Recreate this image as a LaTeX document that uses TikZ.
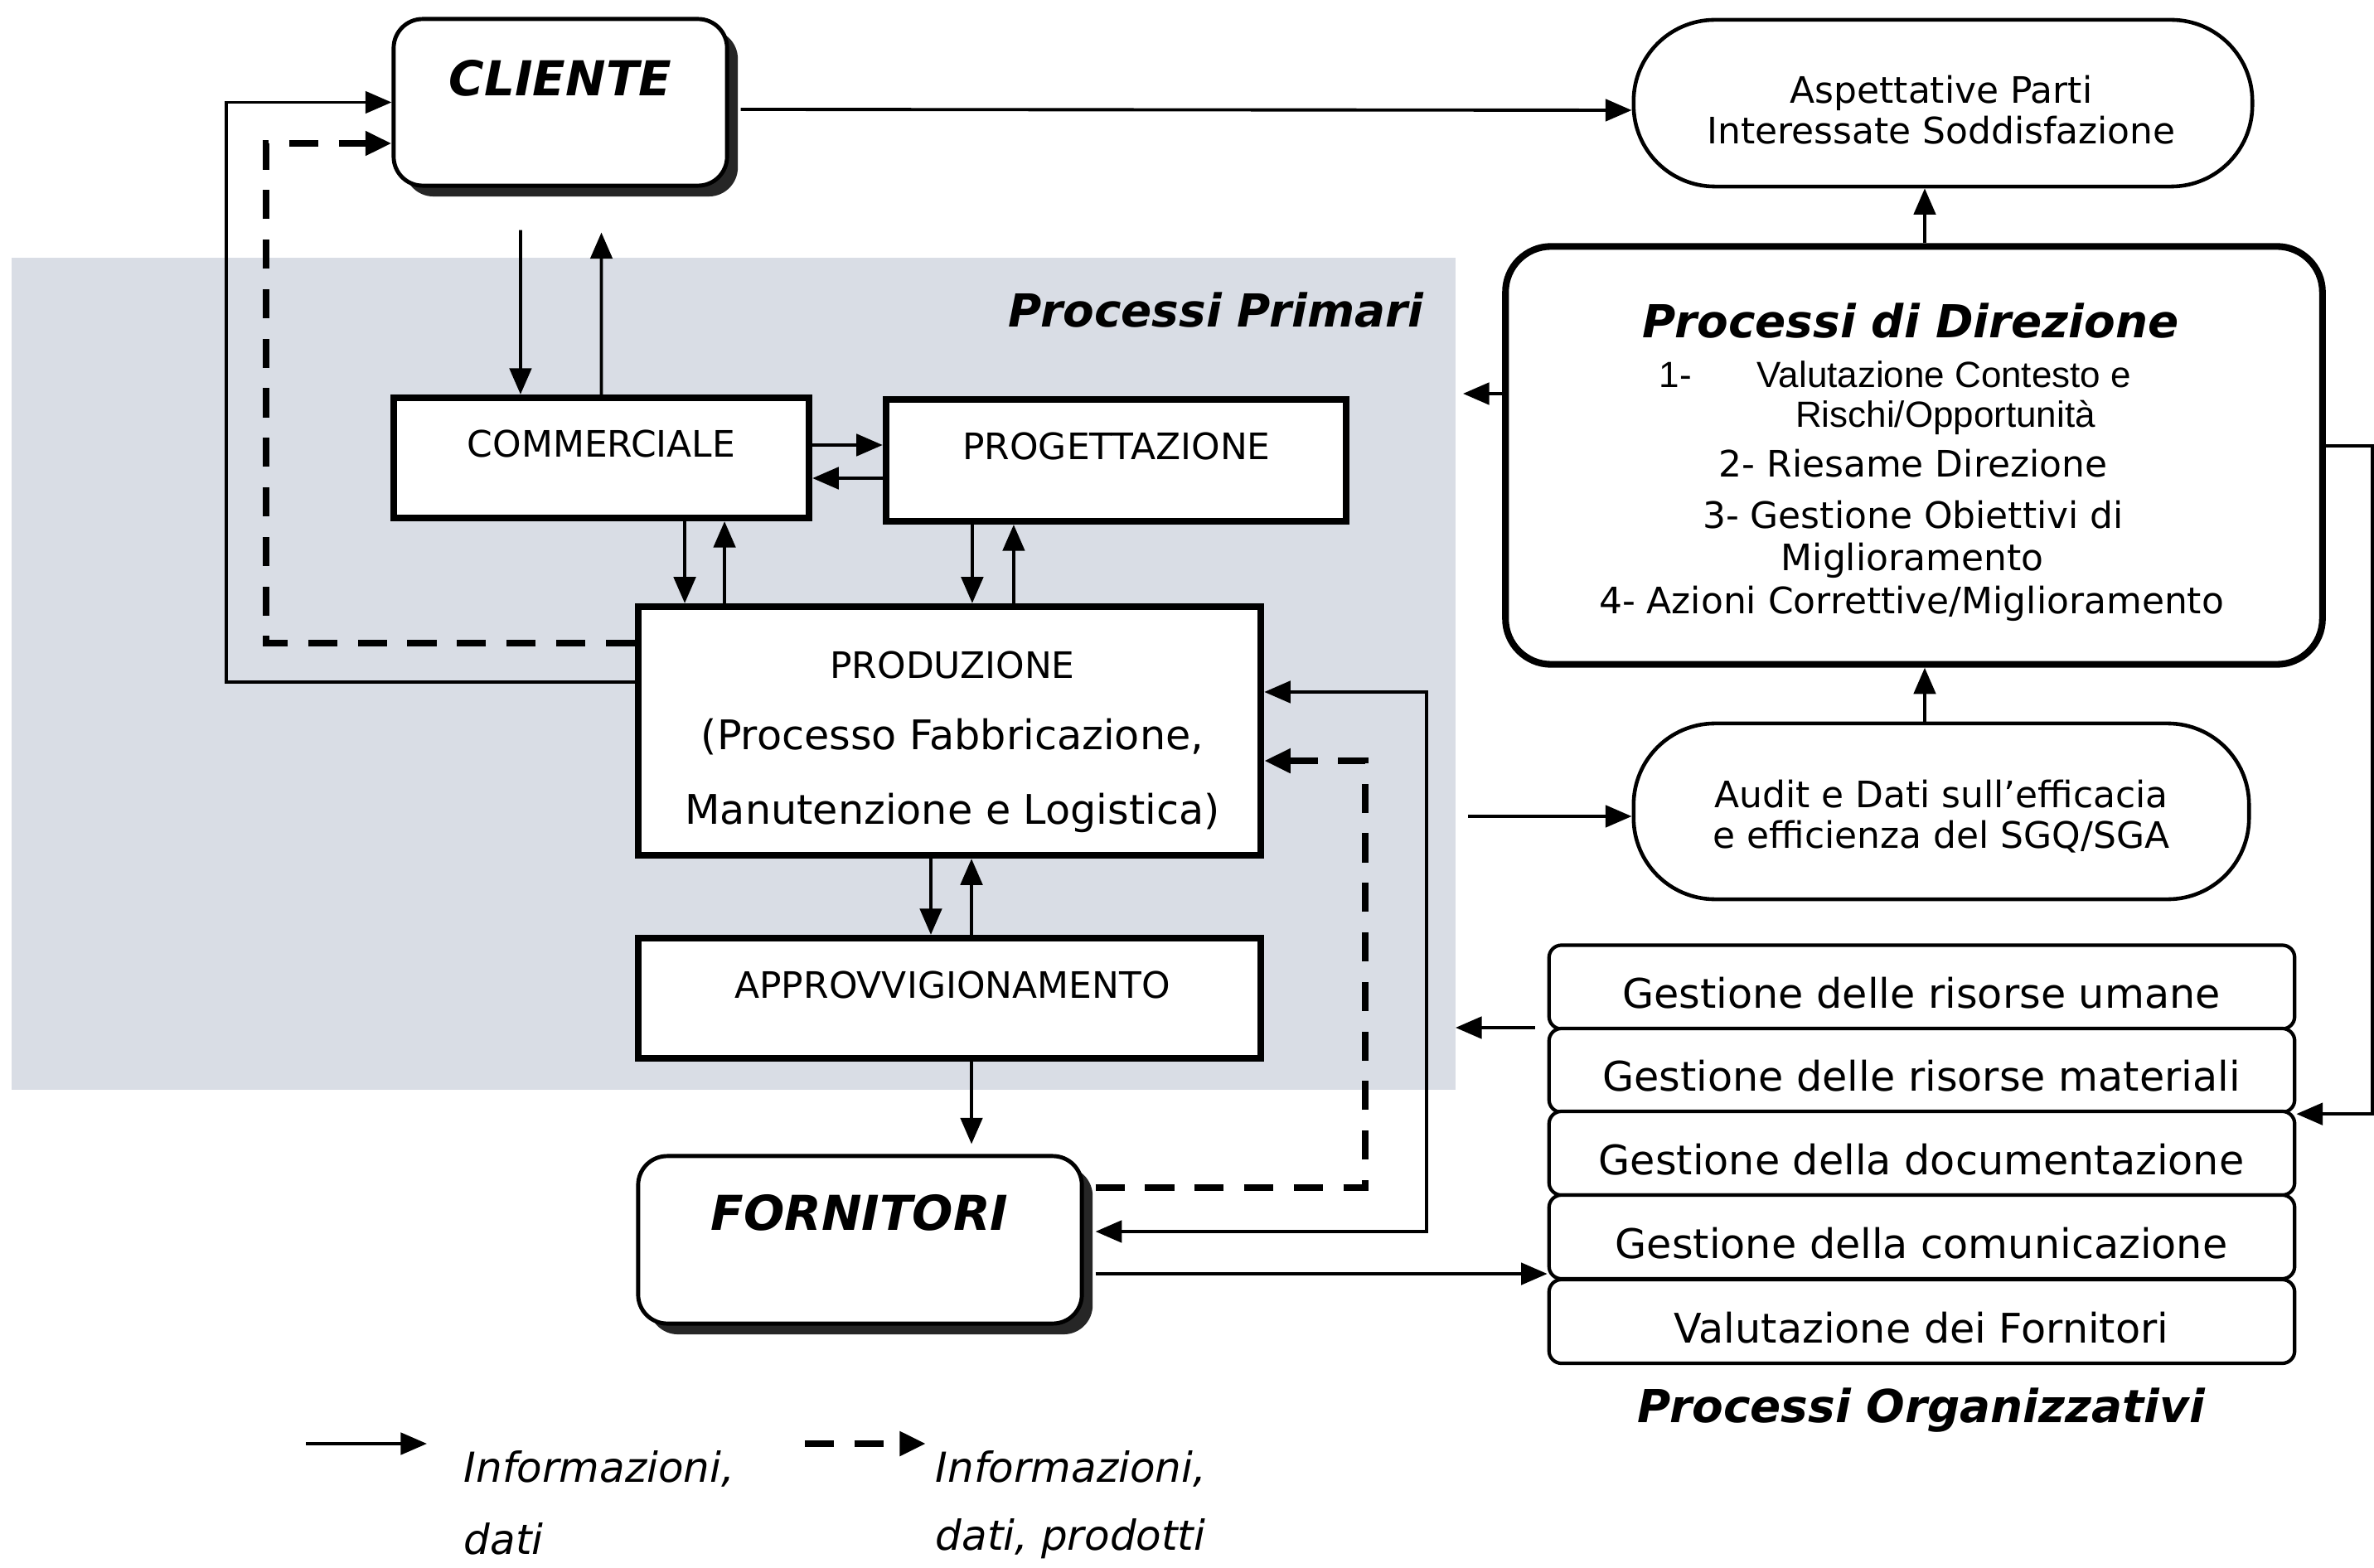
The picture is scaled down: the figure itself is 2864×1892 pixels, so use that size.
\documentclass[tikz,border=0pt]{standalone}
\usepackage{fontspec}
\setmainfont{DejaVu Sans}
\newfontfamily\arialf{Liberation Sans}
\usetikzlibrary{arrows.meta,shadows,calc}
\definecolor{graybg}{RGB}{217,221,229}
\newcommand{\fBox}{\fontsize{12.5pt}{15pt}\selectfont}
\newcommand{\fProd}{\fontsize{14pt}{17pt}\selectfont}
\newcommand{\fTitle}{\fontsize{15.6pt}{19pt}\selectfont\bfseries\itshape}
\newcommand{\fBig}{\fontsize{16.5pt}{20pt}\selectfont\bfseries\itshape}
\newcommand{\fOrg}{\fontsize{14pt}{17pt}\selectfont}
\newcommand{\fLeg}{\fontsize{14.2pt}{17pt}\selectfont\itshape}
\begin{document}
\begin{tikzpicture}[x=0.01cm,y=-0.01cm,
  box/.style={draw, line width=2.3pt, fill=white, inner sep=0pt},
  rbox/.style={draw, line width=1.4pt, fill=white, rounded corners=3.5mm, inner sep=0pt,
     drop shadow={shadow xshift=1.3mm, shadow yshift=-1.3mm, fill=black!85, opacity=1}},
  stad/.style={draw, line width=1.3pt, fill=white, rounded corners=9.8mm, inner sep=0pt},
  dirbox/.style={draw, line width=2.3pt, fill=white, rounded corners=5.5mm, inner sep=0pt},
  orgbox/.style={draw, line width=1.2pt, fill=white, rounded corners=1.5mm, inner sep=0pt,
     minimum width=8.99cm, minimum height=1.01cm},
  txt/.style={inner sep=0pt},
  conn/.style={line width=1.1pt, -{Triangle[length=9pt,width=7.5pt]}},
  dconn/.style={line width=2.2pt, dash pattern=on 10pt off 7pt, -{Triangle[length=9pt,width=8pt]}}
]
\useasboundingbox (0,0) rectangle (2864,1892);
\fill[white] (0,0) rectangle (2864,1892);

% grey area of primary processes
\fill[graybg] (14,311) rectangle (1756,1315);
\node[txt, font=\fTitle] (primT) at (1467,374) {Processi Primari};

% main boxes
\node[rbox, minimum width=4.02cm, minimum height=2.01cm] (cliente) at (676,123.5) {};
\node[txt, font=\fBig] (clienteT) at (676,94) {CLIENTE};

\node[box, minimum width=5.01cm, minimum height=1.45cm] (comm) at (725.5,552.5) {};
\node[txt, font=\fBox] (commT) at (725.5,536) {COMMERCIALE};

\node[box, minimum width=5.55cm, minimum height=1.47cm] (prog) at (1346.5,555.5) {};
\node[txt, font=\fBox] (progT) at (1347,539) {PROGETTAZIONE};

\node[box, minimum width=7.51cm, minimum height=3.0cm] (prod) at (1145.5,882) {};
\node[txt, font=\fBox] (prodT1) at (1149,803) {PRODUZIONE};
\node[txt, font=\fProd] (prodT2) at (1149,889) {(Processo Fabbricazione,};
\node[txt, font=\fProd] (prodT3) at (1149,981) {Manutenzione e Logistica)};

\node[box, minimum width=7.51cm, minimum height=1.45cm] (appr) at (1145.5,1204.5) {};
\node[txt, font=\fBox] (apprT) at (1149,1188) {APPROVVIGIONAMENTO};

\node[rbox, minimum width=5.35cm, minimum height=2.02cm] (forn) at (1037.5,1496) {};
\node[txt, font=\fBig] (fornT) at (1037,1463) {FORNITORI};

% right side
\node[stad, minimum width=7.46cm, minimum height=2.01cm] (asp) at (2344,124.5) {};
\node[txt, font=\fBox, align=center] (aspT) at (2342,133) {Aspettative Parti\\[-1pt]Interessate Soddisfazione};

\node[dirbox, minimum width=9.85cm, minimum height=5.04cm] (dir) at (2309,549.5) {};
\node[txt, font=\fTitle] (dirT) at (2305,387) {Processi di Direzione};
\node[txt, font=\fBox\arialf, anchor=west] (dir1a) at (2001,452) {1-};
\node[txt, font=\fBox\arialf, anchor=west] (dir1b) at (2119,452) {Valutazione Contesto e};
\node[txt, font=\fBox\arialf] (dir1c) at (2347,504) {Rischi/Opportunità};
\node[txt, font=\fBox] (dir2) at (2308,559) {2- Riesame Direzione};
\node[txt, font=\fBox] (dir3) at (2308,621) {3- Gestione Obiettivi di};
\node[txt, font=\fBox] (dir3b) at (2307,676) {Miglioramento};
\node[txt, font=\fBox] (dir4) at (2306,728) {4- Azioni Correttive/Miglioramento};

\node[stad, minimum width=7.42cm, minimum height=2.12cm] (aud) at (2342,979) {};
\node[txt, font=\fBox, align=center] (audT) at (2342,985) {Audit e Dati sull’efficacia\\[-1pt]e efficienza del SGQ/SGA};

\node[orgbox] (org1) at (2318.5,1191) {};
\node[orgbox] (org2) at (2318.5,1291.5) {};
\node[orgbox] (org3) at (2318.5,1391.5) {};
\node[orgbox] (org4) at (2318.5,1492.5) {};
\node[orgbox] (org5) at (2318.5,1594.5) {};
\node[txt, font=\fOrg] (org1T) at (2318,1198) {Gestione delle risorse umane};
\node[txt, font=\fOrg] (org2T) at (2318,1298) {Gestione delle risorse materiali};
\node[txt, font=\fOrg] (org3T) at (2318,1399) {Gestione della documentazione};
\node[txt, font=\fOrg] (org4T) at (2318,1500) {Gestione della comunicazione};
\node[txt, font=\fOrg] (org5T) at (2318,1602) {Valutazione dei Fornitori};
\node[txt, font=\fTitle] (orgT) at (2318,1702) {Processi Organizzativi};

% connectors: PRODUZIONE -> CLIENTE
\draw[conn] ([yshift=5.9mm]prod.west) -- ++(-493,0) |- (cliente.west);
\draw[dconn] ([yshift=10.6mm]prod.west) -- ++(-445,0) |- ([yshift=-4.95mm]cliente.west);
% CLIENTE -> Aspettative
\draw[conn] ([xshift=1.4mm,yshift=-0.85mm]cliente.east) -- ([yshift=-0.85mm]asp.west);
% CLIENTE <-> COMMERCIALE
\draw[conn] ([xshift=-4.8mm,yshift=-5.1mm]cliente.south) -- ([xshift=-9.75mm]comm.north);
\draw[conn] (comm.north) -- ([xshift=4.95mm,yshift=-5.4mm]cliente.south);
% COMMERCIALE <-> PROGETTAZIONE
\coordinate (a6) at ([yshift=1.55mm]comm.east);
\draw[conn] (a6) -- (a6 -| prog.west);
\coordinate (a6b) at ([yshift=-2.45mm]comm.east);
\draw[conn] (a6b -| prog.west) -- (a6b);
% COMMERCIALE <-> PRODUZIONE
\coordinate (a7) at ([xshift=10.05mm]comm.south);
\draw[conn] (a7) -- (a7 |- prod.north);
\coordinate (a7b) at ([xshift=14.85mm]comm.south);
\draw[conn] (a7b |- prod.north) -- (a7b);
% PROGETTAZIONE <-> PRODUZIONE
\coordinate (a8) at ([xshift=-17.35mm]prog.south);
\draw[conn] (a8) -- (a8 |- prod.north);
\coordinate (a8b) at ([xshift=-12.35mm]prog.south);
\draw[conn] (a8b |- prod.north) -- (a8b);
% PRODUZIONE <-> APPROVVIGIONAMENTO
\coordinate (a9) at ([xshift=-2.25mm]prod.south);
\draw[conn] (a9) -- (a9 |- appr.north);
\coordinate (a9b) at ([xshift=2.65mm]prod.south);
\draw[conn] (a9b |- appr.north) -- (a9b);
% APPROVVIGIONAMENTO -> FORNITORI
\coordinate (a10) at ([xshift=2.65mm]appr.south);
\draw[conn, shorten >=1.2mm] (a10) -- (a10 |- forn.north);
% PRODUZIONE <-> FORNITORI
\draw[line width=1.1pt, {Triangle[length=9pt,width=7.5pt]}-{Triangle[length=9pt,width=7.5pt]}]
  ([yshift=4.7mm]prod.east) -- ++(196,0) |- ([xshift=1.4mm,yshift=1.0mm]forn.east);
\draw[dconn] ([xshift=1.4mm,yshift=6.3mm]forn.east) -- ++(325,0) |- ([yshift=-3.6mm]prod.east);
% FORNITORI -> organizzativi
\coordinate (a13) at ([xshift=1.4mm,yshift=-4.1mm]forn.east);
\draw[conn] (a13) -- (a13 -| org4.west);
% Direzione -> primary
\coordinate (g14) at (1765,475);
\draw[conn] (dir.west |- g14) -- (g14);
% primary -> Audit
\coordinate (g15) at (1771,985);
\draw[conn] (g15) -- (g15 -| aud.west);
% Audit -> Direzione -> Aspettative
\coordinate (a16) at ([xshift=-2.2mm]asp.south);
\draw[conn] (a16 |- aud.north) -- (a16 |- dir.south);
\draw[conn] (a16 |- dir.north) -- (a16);
% organizzativi -> primary
\coordinate (g18) at (1756,1240);
\draw[conn, shorten <=1.5mm] (org1.west |- g18) -- (g18);
% Direzione -> organizzativi
\draw[conn] ([yshift=1.15mm]dir.east) -- ++(56,0) |- (org2.south east);

% legend
\coordinate (l1a) at (369,1742);
\coordinate (l1b) at (515,1742);
\draw[conn] (l1a) -- (l1b);
\node[txt, font=\fLeg, anchor=west] (leg1a) at (559,1772) {Informazioni,};
\node[txt, font=\fLeg, anchor=west] (leg1b) at (559,1857) {dati};
\coordinate (l2a) at (971,1742);
\coordinate (l2b) at (1117,1742);
\draw[dconn] (l2a) -- (l2b);
\node[txt, font=\fLeg, anchor=west] (leg2a) at (1128,1772) {Informazioni,};
\node[txt, font=\fLeg, anchor=west] (leg2b) at (1128,1857) {dati, prodotti};
\end{tikzpicture}
\end{document}
